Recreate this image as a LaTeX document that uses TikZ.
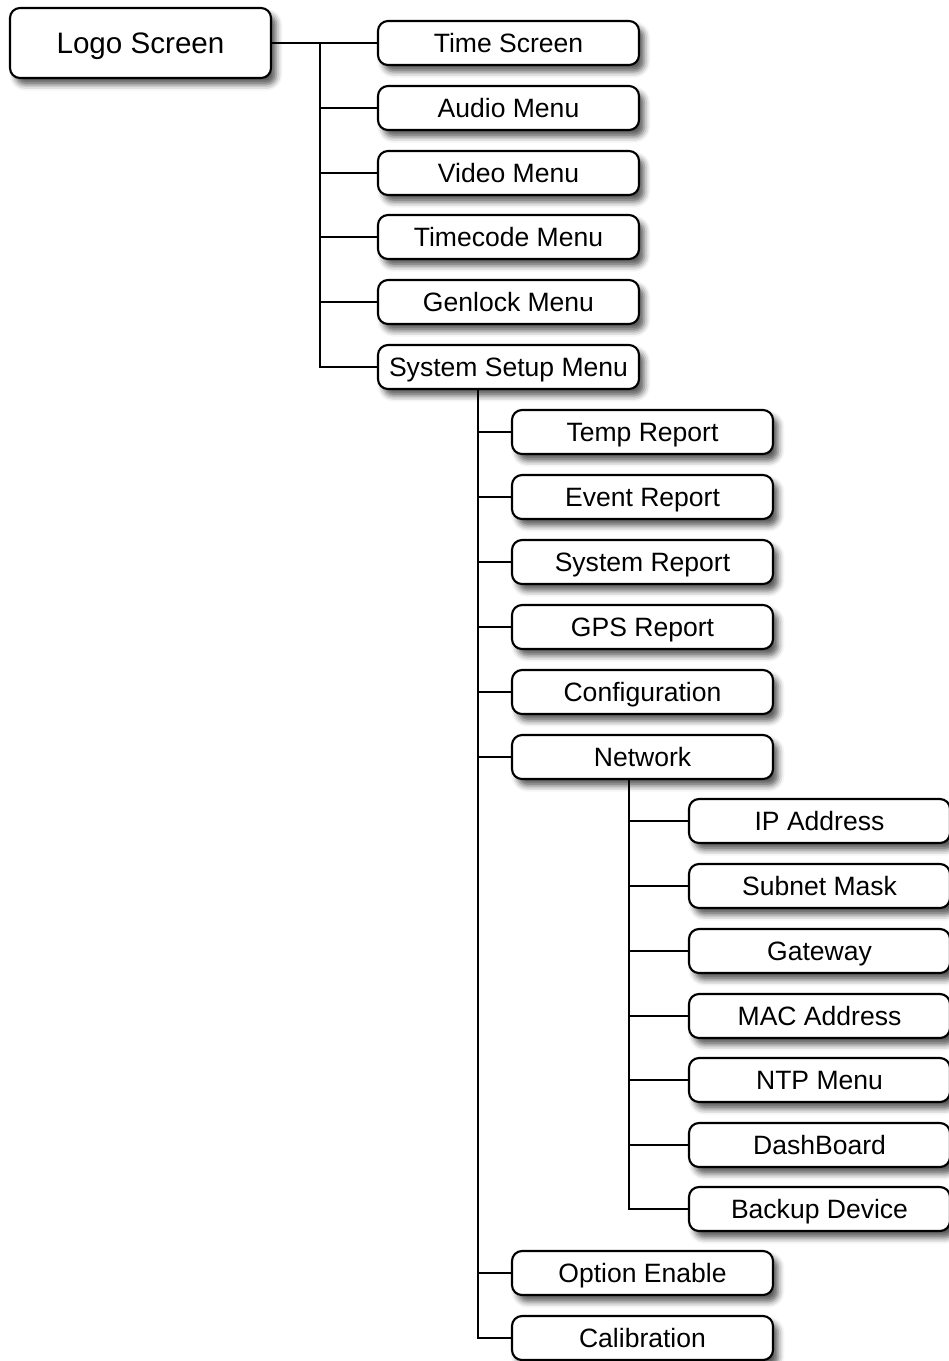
\documentclass[tikz,border=0pt]{standalone}
\usepackage{fontspec}
\setmainfont{Liberation Sans}
\usetikzlibrary{shadows.blur}
\begin{document}
\begin{tikzpicture}[x=0.75pt,y=-0.75pt,
  box/.style={draw=black, line width=1.6pt, fill=white, rounded corners=7.5pt,
    minimum width=195.75pt, minimum height=33pt, inner sep=0pt,
    text height=14.2pt, text depth=0pt,
    font=\fontsize{19.9}{22}\selectfont,
    blur shadow={shadow xshift=4pt, shadow yshift=-5pt, shadow blur radius=4.5pt, shadow opacity=65}},
  bigbox/.style={box, minimum height=52.5pt, text height=15.9pt, font=\fontsize{22.2}{24}\selectfont},
  conn/.style={line width=2pt}]
\useasboundingbox (0,0) rectangle (949,1361);
% level 0
\node[bigbox] (logo) at (140.5,43) {Logo Screen};
% level 1
\node[box] (time) at (508.5,43) {Time Screen};
\node[box] (audio) at (508.5,108) {Audio Menu};
\node[box] (video) at (508.5,173) {Video Menu};
\node[box] (tc) at (508.5,237) {Timecode Menu};
\node[box] (gen) at (508.5,302) {Genlock Menu};
\node[box] (sys) at (508.5,367) {System Setup Menu};
% level 2
\node[box] (temp) at (642.5,432) {Temp Report};
\node[box] (event) at (642.5,497) {Event Report};
\node[box] (sysr) at (642.5,562) {System Report};
\node[box] (gps) at (642.5,627) {GPS Report};
\node[box] (conf) at (642.5,692) {Configuration};
\node[box] (net) at (642.5,757) {Network};
\node[box] (opt) at (642.5,1273) {Option Enable};
\node[box] (cal) at (642.5,1338) {Calibration};
% level 3
\node[box] (ip) at (819.5,821) {IP Address};
\node[box] (sub) at (819.5,886) {Subnet Mask};
\node[box] (gw) at (819.5,951) {Gateway};
\node[box] (mac) at (819.5,1016) {MAC Address};
\node[box] (ntp) at (819.5,1080) {NTP Menu};
\node[box] (dash) at (819.5,1145) {DashBoard};
\node[box] (bak) at (819.5,1209) {Backup Device};
% trunks
\coordinate (t1) at (320,43);
\coordinate (t2) at (478,389);
\coordinate (t3) at (629,779);
\draw[conn] (logo.east) -- (time.west);
\draw[conn] (t1) |- (sys.west);
\foreach \n in {audio,video,tc,gen} \draw[conn] (t1 |- \n.west) -- (\n.west);
\draw[conn] (t2) |- (cal.west);
\foreach \n in {temp,event,sysr,gps,conf,net,opt} \draw[conn] (t2 |- \n.west) -- (\n.west);
\draw[conn] (t3) |- (bak.west);
\foreach \n in {ip,sub,gw,mac,ntp,dash} \draw[conn] (t3 |- \n.west) -- (\n.west);
\end{tikzpicture}
\end{document}
